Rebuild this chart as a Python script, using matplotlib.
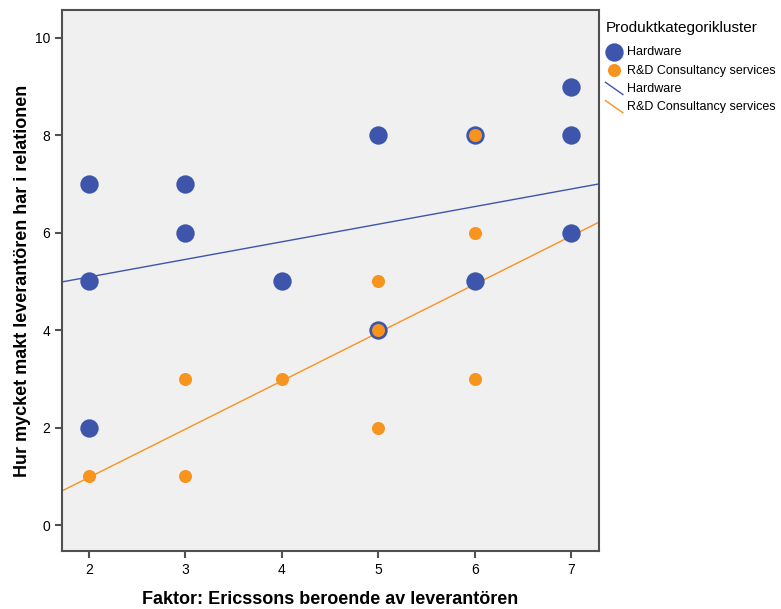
import numpy as np
import matplotlib
matplotlib.use("Agg")
import matplotlib.pyplot as plt
from matplotlib.lines import Line2D
from matplotlib.legend_handler import HandlerBase

plt.rcParams['font.family'] = ['Liberation Sans', 'DejaVu Sans']

hw_x = [2, 2, 2, 3, 3, 4, 5, 5, 6, 6, 7, 7, 7]
hw_y = [7, 5, 2, 7, 6, 5, 8, 4, 8, 5, 9, 8, 6]
rd_x = [2, 3, 3, 4, 5, 5, 5, 6, 6, 6]
rd_y = [1, 3, 1, 3, 5, 4, 2, 8, 6, 3]

# fit lines (slope, intercept)
hw_fit = (0.361, 4.37)
rd_fit = (0.99, -1.0)

blue = '#3D56AB'
orange = '#F7941D'


class DiagLine(HandlerBase):
    def create_artists(self, legend, orig, xd, yd, w, h, fs, trans):
        ln = Line2D([-xd, -xd + w], [-yd + h * 1.1, -yd - h * 0.3],
                    color=orig.get_color(), lw=orig.get_linewidth())
        ln.set_transform(trans)
        return [ln]


fig = plt.figure(figsize=(7.81, 6.09), dpi=100)
ax = fig.add_axes([62 / 781, 58 / 609, 537 / 781, 541 / 609])
ax.set_facecolor('#F0F0F0')

xmin, xmax = 1.72, 7.29
ax.scatter(hw_x, hw_y, s=175, color=blue, zorder=3, linewidths=0, label='Hardware')
ax.scatter(rd_x, rd_y, s=88, color=orange, zorder=4, linewidths=0, label='R&D Consultancy services')

xx = np.array([xmin, xmax])
l1, = ax.plot(xx, hw_fit[0] * xx + hw_fit[1], color=blue, lw=1, zorder=2, label='Hardware')
l2, = ax.plot(xx, rd_fit[0] * xx + rd_fit[1], color=orange, lw=1, zorder=2, label='R&D Consultancy services')

ax.set_xlim(xmin, xmax)
ax.set_ylim(-0.53, 10.57)
ax.set_xticks(range(2, 8))
ax.set_yticks(range(0, 11, 2))
for s in ax.spines.values():
    s.set_color('#505050')
    s.set_linewidth(1.5)
ax.tick_params(direction='out', length=5, width=1.5, color='#505050', labelsize=10)

ax.set_xlabel('Faktor: Ericssons beroende av leverantören', fontsize=13, fontweight='bold', labelpad=10)
ax.set_ylabel('Hur mycket makt leverantören har i relationen', fontsize=13, fontweight='bold', labelpad=3)

leg = ax.legend(title='Produktkategorikluster', loc='upper left', bbox_to_anchor=(0.998, 0.993),
                frameon=False, fontsize=9, title_fontsize=11, handlelength=1.4,
                handletextpad=0.35, labelspacing=0.5, borderaxespad=0.2,
                handler_map={Line2D: DiagLine()})
leg._legend_box.align = 'left'
leg._legend_box.sep = 8

fig.savefig('out.png', dpi=100)
